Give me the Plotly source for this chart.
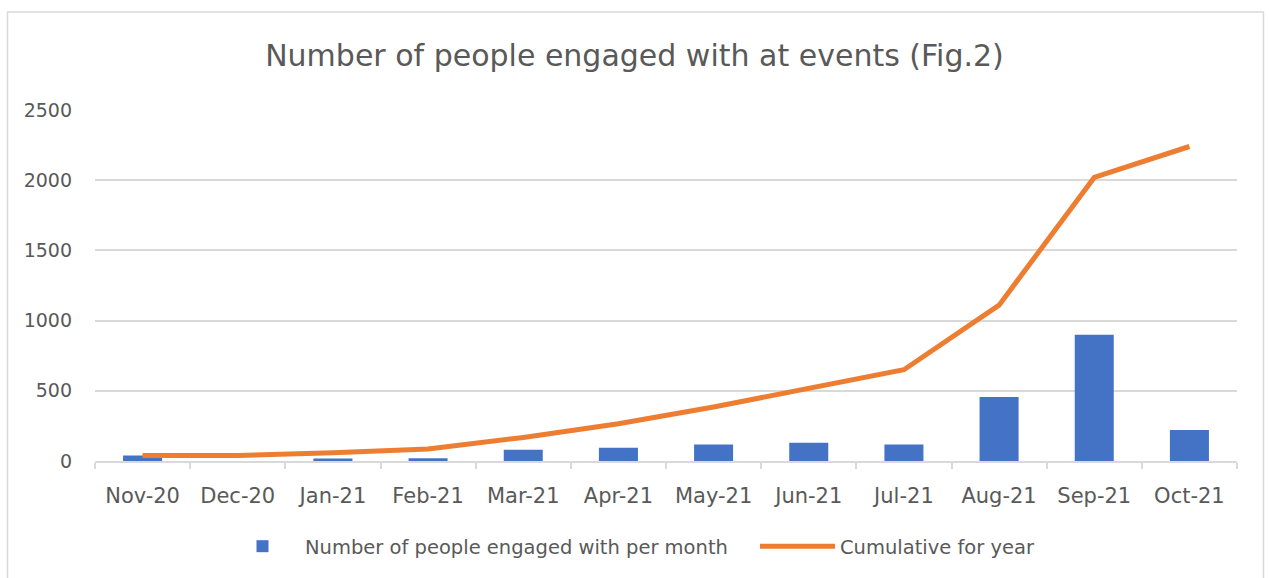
import plotly.graph_objects as go

months = ["Nov-20", "Dec-20", "Jan-21", "Feb-21", "Mar-21", "Apr-21",
          "May-21", "Jun-21", "Jul-21", "Aug-21", "Sep-21", "Oct-21"]
per_month = [40, 0, 18, 20, 80, 95, 118, 130, 118, 455, 900, 220]
cumulative = [40, 40, 58, 85, 168, 265, 385, 518, 650, 1110, 2020, 2240]
y_ticks = [0, 500, 1000, 1500, 2000, 2500]

W, H = 1269, 578
L, R, T, B = 95, 1237, 110, 463

FONT = "'DejaVu Sans', sans-serif"
GREY = "#595959"

fig = go.Figure()
fig.add_trace(go.Bar(
    x=months, y=per_month, name="Number of people engaged with per month",
    marker=dict(color="#4472C4", line=dict(width=0)), width=0.41,
    legend="legend",
))
fig.add_trace(go.Scatter(
    x=months, y=cumulative, name="Cumulative for year", mode="lines",
    line=dict(color="#ED7D31", width=5, shape="linear"),
    legend="legend2",
))

def px_x(p):
    return (p - L) / (R - L)

def px_y(p):
    return (B - p) / (B - T)

legend_common = dict(orientation="h", xanchor="left", y=px_y(549), yanchor="middle",
                     font=dict(family=FONT, size=19.5, color=GREY),
                     itemwidth=75, bgcolor="rgba(0,0,0,0)")

fig.update_layout(
    width=W, height=H,
    margin=dict(l=L, r=W - R, t=T, b=H - B),
    paper_bgcolor="white", plot_bgcolor="white",
    title=dict(text="Number of people engaged with at events (Fig.2)",
               x=0.5, xanchor="center", y=1 - 55 / H, yanchor="middle",
               font=dict(family=FONT, size=30, color=GREY)),
    font=dict(family=FONT, size=18, color=GREY),
    xaxis=dict(showgrid=False, showline=True, linecolor="#d9d9d9", linewidth=1.5,
               ticks="outside", ticklen=6, tickcolor="#d9d9d9", tickwidth=1.5,
               tickson="boundaries", ticklabelstandoff=15,
               tickfont=dict(family=FONT, size=21, color=GREY)),
    yaxis=dict(range=[0, 2500], tickvals=y_ticks, showgrid=True,
               gridcolor="#d9d9d9", gridwidth=1.5, zeroline=False, showline=False,
               ticks="", ticklabelstandoff=22,
               tickfont=dict(family=FONT, size=19, color=GREY)),
    legend=dict(x=px_x(220), **legend_common),
    legend2=dict(x=px_x(755), **legend_common),
    bargap=0.59,
    showlegend=True,
    shapes=[dict(type="rect", xref="paper", yref="paper",
                 x0=px_x(7.5), x1=px_x(1263.5), y0=px_y(600), y1=px_y(11.5),
                 line=dict(color="#d9d9d9", width=1.5), fillcolor="rgba(0,0,0,0)",
                 layer="below")],
)

fig.write_html("out.html", config={"displayModeBar": False},
               post_script="document.body.style.margin='0';")
